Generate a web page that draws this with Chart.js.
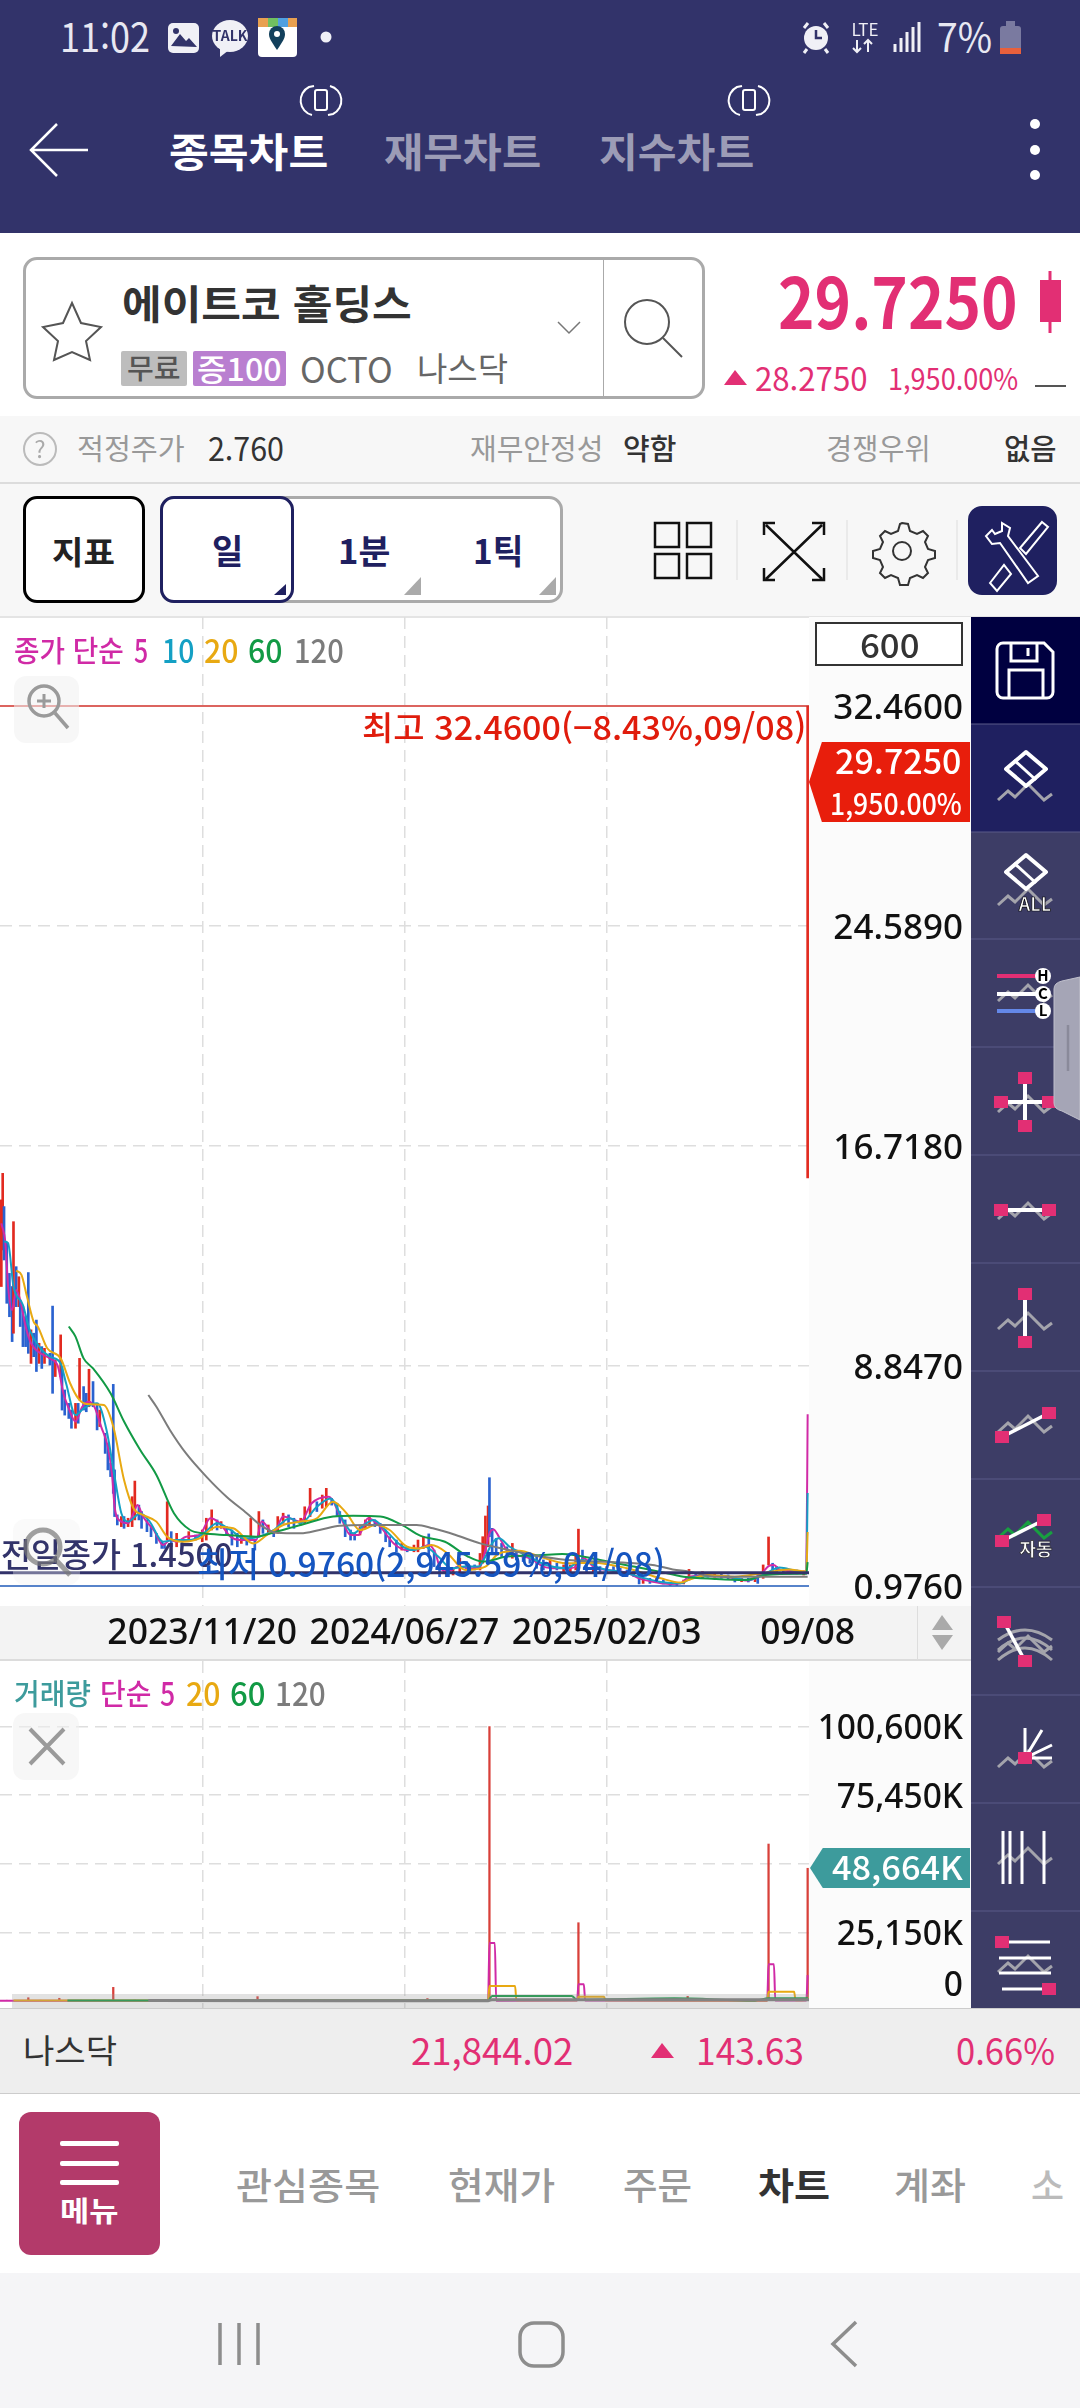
<!DOCTYPE html>
<html lang="ko">
<head>
<meta charset="utf-8">
<title>에이트코 홀딩스 차트</title>
<style>
  html, body { margin: 0; padding: 0; background: #fff; overflow: hidden; }
  #page { position: relative; width: 1080px; height: 2408px; overflow: hidden; font-family: "Noto Sans CJK KR", "Noto Sans", sans-serif; }
  #page div, #page span, canvas, svg { position: absolute; box-sizing: border-box; }
  span { white-space: pre; line-height: 1; transform-origin: left center; }
  #bg { z-index: 0; } #over { z-index: 3; }
  canvas { z-index: 1; }
  svg { z-index: 2; left: 0; top: 0; }
</style>
</head>
<body>
<div id="page">
  <div id="bg"></div>
  <canvas id="priceChart" width="971" height="1043" style="left:0;top:617px"></canvas>
  <canvas id="volumeChart" width="971" height="347" style="left:0;top:1661px"></canvas>
  <div id="over"></div>
</div>
<script src="https://cdn.jsdelivr.net/npm/chart.js@4"></script>
<script>
// candles (price, day index counted from the left edge)
const candleDays = [1,2,3,5,7,9,10,12,14,15,
  17,19,21,23,25,27,29,31,33,37,
  39,41,45,46,48,51,53,56,58,59,
  62,64,66,69,72,74,78,80,82,84,
  85,87,90,92,95,98,100,103,105,109,
  112,116,120,122,124,127,131,135,140,145,
  150,153,157,161,164,168,172,176,179,183,
  186,189,192,195,199,203,206,210,214,218,
  223,226,230,235,239,242,246,250,252,256,
  260,263,267,271,274,278,282,286,289,294,
  298,302,307,310,314,318,322,326,331,336,
  341,346,352,356,358,360,362,363,365,368,
  372,376,380,383,388,393,398,403,408,413,
  418,423,427,429,432,435,440,445,450,455,
  460,465,470,474,477,482,487,492,497,502,
  507,511,516,521,525,530,535,540,545,550,
  555,560,562,566,570,573,576,581,586,591,
  596,599];
const candleHigh = [14.79,15.74,14.55,13.24,12.16,11.69,14.01,12.40,12.04,11.21,
  10.97,10.61,12.19,10.14,10.02,10.49,9.66,9.54,9.48,9.30,
  10.99,9.06,9.96,8.82,7.99,7.51,7.27,7.51,7.51,9.12,
  8.11,7.87,8.73,8.29,7.51,7.27,6.44,6.08,5.37,8.19,
  5.13,3.52,3.46,3.46,3.40,4.17,4.73,3.87,3.64,3.34,
  3.10,2.86,2.56,2.50,3.99,2.92,2.86,2.62,2.92,2.80,
  2.98,3.40,3.70,3.34,3.28,3.10,2.98,2.86,2.74,2.68,
  3.40,2.62,3.64,3.34,3.16,2.98,3.46,3.58,3.52,3.40,
  3.40,3.81,4.47,3.99,4.23,4.47,4.11,3.93,3.64,3.34,
  2.98,2.86,3.10,3.34,3.46,3.34,3.22,2.98,2.74,2.62,
  2.50,2.38,2.44,2.62,2.74,2.84,2.26,1.79,1.55,1.61,
  1.97,1.85,1.73,2.14,2.74,3.48,3.84,4.85,3.04,2.68,
  2.50,2.38,2.50,2.26,2.14,2.08,2.03,1.91,1.91,1.79,
  1.73,1.73,2.14,3.01,2.26,1.91,1.79,1.67,1.67,1.67,
  1.61,1.55,1.49,1.49,1.25,1.25,1.25,1.19,1.10,1.07,
  1.19,1.57,1.43,1.49,1.43,1.43,1.41,1.37,1.25,1.25,
  1.25,1.25,1.43,1.73,2.73,1.79,1.67,1.58,1.57,1.55,
  1.52,32.46];
const candleLow = [11.69,13.00,12.64,11.09,10.61,9.72,10.02,10.97,10.97,10.26,
  9.54,9.54,9.30,8.94,9.18,8.65,8.94,8.76,8.94,8.88,
  7.87,8.47,8.47,7.27,7.09,6.97,6.62,6.62,6.80,7.63,
  7.27,7.21,7.39,7.39,6.56,6.68,5.72,5.13,4.89,4.29,
  3.46,3.16,3.10,3.04,3.10,3.10,3.34,3.34,3.04,2.92,
  2.74,2.50,2.32,2.32,2.62,2.38,2.38,2.44,2.56,2.62,
  2.56,2.62,2.98,2.98,3.04,2.80,2.44,2.38,2.50,2.44,
  2.62,2.26,2.74,2.86,2.86,2.74,2.86,3.22,3.10,3.04,
  3.16,3.22,3.46,3.64,3.76,3.81,3.87,3.46,3.22,2.74,
  2.62,2.62,2.80,3.04,3.16,3.10,2.86,2.56,2.38,2.20,
  2.26,2.20,2.20,2.20,2.32,2.03,1.67,1.31,1.31,1.37,
  1.49,1.55,1.55,1.55,1.79,2.14,2.38,2.74,2.14,2.08,
  2.03,2.03,1.97,1.91,1.85,1.79,1.61,1.55,1.61,1.55,
  1.49,1.49,1.55,1.91,1.85,1.49,1.49,1.43,1.49,1.43,
  1.37,1.31,1.31,1.05,1.07,1.07,1.13,1.05,1.00,1.00,
  1.05,1.19,1.25,1.25,1.29,1.29,1.25,1.23,1.12,1.13,
  1.12,1.13,1.07,1.25,1.73,1.49,1.49,1.43,1.41,1.41,
  1.37,15.58];
const candleClose = [12.5,14.2,13.0,11.5,11.0,10.0,11.6,11.2,11.4,10.5,
  9.9,9.8,9.5,9.6,9.4,9.0,9.3,9.0,9.3,9.1,
  8.2,8.7,8.9,7.6,7.3,7.2,6.8,7.2,7.0,8.1,
  7.6,7.4,7.9,7.6,6.9,7.0,6.0,5.4,5.1,4.6,
  3.6,3.3,3.35,3.2,3.3,3.7,3.9,3.6,3.3,3.1,
  2.9,2.7,2.45,2.4,2.9,2.6,2.7,2.5,2.8,2.7,
  2.8,3.2,3.3,3.1,3.2,2.9,2.6,2.5,2.6,2.55,
  2.8,2.4,3.2,3.0,3.1,2.8,3.2,3.4,3.3,3.2,
  3.3,3.6,3.9,3.8,4.0,4.2,4.0,3.6,3.4,2.9,
  2.8,2.7,3.0,3.2,3.3,3.2,3.0,2.7,2.5,2.35,
  2.4,2.3,2.35,2.5,2.6,2.2,1.8,1.45,1.4,1.5,
  1.7,1.65,1.6,1.9,2.4,3.0,3.4,3.1,2.6,2.3,
  2.2,2.1,2.3,2.0,1.95,1.9,1.7,1.65,1.75,1.6,
  1.6,1.65,1.9,2.1,2.0,1.6,1.65,1.5,1.6,1.5,
  1.45,1.4,1.35,1.1,1.15,1.1,1.2,1.08,1.05,1.02,
  1.12,1.45,1.3,1.4,1.35,1.38,1.3,1.28,1.18,1.2,
  1.15,1.2,1.1,1.6,1.9,1.6,1.55,1.5,1.52,1.45,
  1.45,29.725];

// moving averages on price
const ma5Days = [1,4,6,9,12,15,19,23,30,37,43,47,51,56,61,66,70,75,80,83,85,89,95,99,102,106,114,121,126,131,138,148,156,163,171,178,185,190,194,203,210,223,231,244,252,260,266,273,282,292,302,311,318,323,326,332,340,350,356,360,363,366,370,376,383,393,403,413,423,429,433,440,450,465,474,482,497,505,511,525,540,555,565,570,574,578,590,598,599];
const ma5 = [13.95,13.24,11.69,10.85,11.57,11.21,10.26,9.66,9.30,9.12,8.82,7.87,7.33,6.86,7.39,7.57,7.39,6.68,5.96,5.01,3.81,3.31,3.22,3.58,3.87,3.46,2.98,2.44,2.62,2.56,2.74,2.80,3.40,3.22,2.74,2.62,2.62,2.62,3.28,2.86,3.46,3.28,3.93,4.17,3.52,2.80,2.80,3.40,3.10,2.50,2.26,2.32,2.44,2.14,1.67,1.49,1.67,1.61,1.67,2.26,2.86,3.00,2.74,2.26,2.08,1.97,1.67,1.61,1.61,1.73,1.97,1.67,1.55,1.45,1.25,1.15,1.05,1.07,1.31,1.35,1.29,1.17,1.43,1.69,1.73,1.57,1.49,1.45,7.12];
const ma10Days = [3,6,10,17,22,30,37,45,49,56,62,72,79,85,90,95,104,111,121,129,141,151,161,171,181,192,203,215,223,235,245,255,262,270,277,287,297,307,315,325,335,345,355,360,365,370,378,390,405,420,432,445,460,474,490,505,515,535,555,568,578,590,598,599];
const ma10 = [13.30,13.24,11.69,11.03,10.14,9.48,9.18,8.94,8.23,7.09,7.33,7.51,6.56,4.89,3.58,3.28,3.58,3.28,2.56,2.62,2.62,2.86,3.22,2.98,2.68,2.74,2.98,3.40,3.22,3.81,4.11,3.28,2.86,3.16,3.34,2.92,2.44,2.26,2.38,2.03,1.61,1.67,1.67,2.03,2.50,2.68,2.38,2.08,1.73,1.61,1.91,1.61,1.49,1.31,1.12,1.07,1.31,1.33,1.19,1.43,1.64,1.52,1.45,4.30];
const ma20Days = [12,16,20,25,28,35,45,52,58,64,77,84,92,99,106,116,124,136,148,161,173,188,198,210,223,235,247,257,267,279,289,302,311,320,332,345,360,370,385,400,420,440,465,490,505,512,525,545,565,585,598,599];
const ma20 = [12.26,12.10,11.33,10.43,10.26,9.48,9.12,8.23,7.69,7.49,7.45,6.68,4.77,3.76,3.52,3.28,2.74,2.56,2.68,3.10,3.04,2.50,2.80,3.16,3.28,3.40,3.99,3.58,2.98,3.16,2.98,2.38,2.32,2.44,2.14,1.55,1.67,2.14,2.24,2.03,1.79,1.81,1.61,1.25,1.10,1.22,1.37,1.31,1.43,1.57,1.49,2.91];
const ma60Days = [51,56,62,69,82,92,104,116,129,141,151,168,190,205,223,247,262,282,297,312,330,347,358,376,400,417,445,470,489,507,530,552,568,593,598,599];
const ma60 = [10.26,9.90,9.12,8.76,7.87,6.86,5.84,4.95,3.58,2.98,2.86,2.80,2.74,2.92,3.16,3.46,3.49,3.46,3.19,2.77,2.56,2.03,1.85,2.03,2.08,2.12,1.91,1.67,1.49,1.31,1.23,1.19,1.37,1.41,1.41,1.83];
const ma120Days = [110,116,126,138,153,168,183,193,205,223,237,252,272,297,309,321,338,356,372,396,421,445,464,484,499,511,530,555,581,599];
const ma120 = [7.81,7.39,6.56,5.72,4.89,4.17,3.58,3.16,2.88,2.86,2.98,3.13,3.16,3.16,3.16,3.04,2.80,2.50,2.32,2.08,1.91,1.85,1.81,1.73,1.57,1.49,1.31,1.31,1.31,1.31];

// reference lines and axes
const highPrice = 32.46, lowPrice = 0.976, prevClose = 1.45;
const priceTicks = [0.976, 8.847, 16.718, 24.589, 32.46];
const priceTickLabels = ["0.9760", "8.8470", "16.7180", "24.5890", "32.4600"];
const dateTicks = [150, 300, 450, 599];
const dateLabels = ["2023/11/20", "2024/06/27", "2025/02/03", "09/08"];

// volume in thousands
const volumeDays = [5,21,30,44,60,70,84,100,120,140,160,191,210,240,270,300,317,340,360,363,364,380,400,429,450,480,510,540,560,570,585,599];
const volumes = [200,1200,250,1000,200,300,5000,300,200,250,200,1600,200,150,180,200,900,200,400,100600,700,400,300,28700,400,300,1700,250,300,57550,300,48664];
const volMa5Days = [0,20,362,363,367,368,428,429,433,434,569,570,574,575,598,599];
const volMa5 = [100,120,120,21260,21260,120,150,6100,6100,150,120,13450,13450,200,200,9500];
const volMa20Days = [10,100,362,363,382,383,428,429,448,449,569,570,589,590,598,599];
const volMa20 = [180,200,150,5500,5500,300,300,1570,1570,250,200,3400,3400,300,400,1500];
const volMa60Days = [50,200,362,365,424,428,500,560,570,598,599];
const volMa60 = [170,150,150,1830,1830,400,990,200,1000,1000,1400];
const volMa120Days = [110,300,362,365,590,600];
const volMa120 = [150,130,130,500,500,500];
const volumeTicks = [0, 25150, 50300, 75450, 100600];
const volumeTickLabels = ["0", "25,150K", "", "75,450K", "100,600K"];

const red = "#e22a20", blue = "#2a62d0", pink = "#e22f74", navy = "#32336a";
const maColors = { ma5: "#d02aa6", ma10: "#14a0c4", ma20: "#e8a912", ma60: "#129a45", ma120: "#7c7c7c" };
const xy = (xs, ys) => xs.map((x, i) => ({ x: x, y: ys[i] }));
const maLine = (xs, ys, color, width) => ({
  type: "line", data: xy(xs, ys), borderColor: color, borderWidth: width || 2,
  pointRadius: 0, cubicInterpolationMode: "monotone", order: 1,
});
const flatLine = (y, color, width) => ({
  type: "line", data: [{ x: 0, y: y }, { x: 600, y: y }], borderColor: color, borderWidth: width,
  pointRadius: 0, order: 0,
});

const gridDash = { display: false, dash: [12, 7] };
// a 6px line height lets a leading empty line push the label down 3px, the app prints them slightly low
const priceTickFont = { family: "Noto Sans", size: 35, weight: "500", lineHeight: "6px" };
const volumeTickFont = { family: "Noto Sans", size: 33.5, weight: "500", lineHeight: "6px" };
// the plot has to fill its box exactly, so no room is kept for tick labels
const noMargins = (s) => {
  s.paddingLeft = s.paddingRight = s.paddingTop = s.paddingBottom = 0;
  s._margins = { left: 0, right: 0, top: 0, bottom: 0 };
};

new Chart(document.getElementById("priceChart"), {
  type: "bar",
  data: {
    datasets: [
      {
        data: candleDays.map((d, i) => ({ x: d, y: [candleLow[i], candleHigh[i]] })),
        backgroundColor: candleDays.map((d, i) => (i === 0 || candleClose[i] >= candleClose[i - 1] ? red : blue)),
        barThickness: 2, order: 2,
      },
      maLine(ma120Days, ma120, maColors.ma120),
      maLine(ma60Days, ma60, maColors.ma60),
      maLine(ma20Days, ma20, maColors.ma20),
      maLine(ma10Days, ma10, maColors.ma10),
      maLine(ma5Days, ma5, maColors.ma5),
      flatLine(highPrice, "#d0302a", 1.5),
      flatLine(lowPrice, "#1f5ab8", 1.5),
      flatLine(prevClose, navy, 3),
    ],
  },
  options: {
    responsive: false, animation: false,
    layout: { padding: { right: 8 }, autoPadding: false },
    plugins: { legend: { display: false }, tooltip: { enabled: false } },
    scales: {
      x: {
        type: "linear", min: 0, max: 600, offset: false,
        afterBuildTicks: (s) => { s.ticks = dateTicks.map((v) => ({ value: v })); },
        afterFit: (s) => { s.height = 54; noMargins(s); },
        border: gridDash,
        grid: {
          offset: false, drawTicks: false, lineWidth: 1.5,
          color: (c) => (c.tick && c.tick.value === 599 ? "transparent" : "#dedede"),
        },
        ticks: {
          autoSkip: false, maxRotation: 0, padding: 7, color: "#111",
          font: { family: "Noto Sans", size: 35.5, weight: "500" },
          callback: (v, i) => dateLabels[i],
        },
      },
      y: {
        position: "right", min: 0.2605, max: 35.644,
        afterBuildTicks: (s) => { s.ticks = priceTicks.map((v) => ({ value: v })); },
        afterFit: (s) => { s.width = 154; noMargins(s); },
        border: gridDash,
        grid: {
          drawTicks: false, lineWidth: 1.5,
          color: (c) => (c.tick && (c.tick.value === lowPrice || c.tick.value === highPrice) ? "transparent" : "#dedede"),
        },
        ticks: { autoSkip: false, padding: 0, crossAlign: "far", color: "#111", font: priceTickFont, callback: (v, i) => ["", priceTickLabels[i]] },
      },
    },
  },
});

new Chart(document.getElementById("volumeChart"), {
  type: "bar",
  data: {
    datasets: [
      { data: xy(volumeDays, volumes), backgroundColor: "#d8403a", barThickness: 1.6, order: 2 },
      maLine(volMa120Days, volMa120, maColors.ma120, 3),
      maLine(volMa60Days, volMa60, maColors.ma60),
      maLine(volMa20Days, volMa20, maColors.ma20),
      maLine(volMa5Days, volMa5, maColors.ma5),
    ],
  },
  options: {
    responsive: false, animation: false,
    layout: { padding: { right: 8 }, autoPadding: false },
    plugins: { legend: { display: false }, tooltip: { enabled: false } },
    scales: {
      x: {
        type: "linear", min: 0, max: 600, offset: false,
        afterBuildTicks: (s) => { s.ticks = dateTicks.slice(0, 3).map((v) => ({ value: v })); },
        afterFit: (s) => { s.height = 0; noMargins(s); },
        border: gridDash,
        grid: { offset: false, drawTicks: false, lineWidth: 1.5, color: "#dedede" },
        ticks: { display: false },
      },
      y: {
        position: "right", min: -2566, max: 124650,
        afterBuildTicks: (s) => { s.ticks = volumeTicks.map((v) => ({ value: v })); },
        afterFit: (s) => { s.width = 154; noMargins(s); },
        border: gridDash,
        grid: {
          drawTicks: false, lineWidth: 1.5,
          color: (c) => (c.tick && c.tick.value === 0 ? "transparent" : "#dedede"),
        },
        ticks: {
          autoSkip: false, padding: 0, crossAlign: "far", color: "#111", font: volumeTickFont,
          // the 0 label sits above its line in the app, trailing empty lines lift it
          callback: (v, i) => (i === 0 ? [volumeTickLabels[i], "", "", "", "", ""] : ["", volumeTickLabels[i]]),
        },
      },
    },
  },
});

// app chrome around the charts
const bg = document.getElementById("bg"), over = document.getElementById("over");
function box(layer, x, y, w, h, css) {
  const d = document.createElement("div");
  d.style.cssText = `left:${x}px;top:${y}px;width:${w}px;height:${h}px;${css}`;
  layer.appendChild(d);
}
// text squeezed to the width it has in the screenshot
function T(text, x0, x1, cy, size, color, weight) {
  const s = document.createElement("span");
  s.textContent = text;
  s.style.cssText = `left:${x0}px;top:${cy - size / 2 - 2}px;font-size:${size}px;color:${color};font-weight:${weight || 400}`;
  over.appendChild(s);
  s.style.transform = `scaleX(${(x1 - x0) / s.offsetWidth})`;
}

box(bg, 0, 0, 1080, 233, `background:${navy}`);
box(bg, 0, 416, 1080, 201, "background:#f7f7f7");
box(bg, 0, 482, 1080, 2, "background:#dcdcdc");
box(bg, 0, 616, 1080, 2, "background:#e4e4e4");
box(bg, 23, 257, 682, 142, "border:3px solid #aaa;border-radius:14px;background:#fff");
box(bg, 603, 258, 1, 140, "background:#aaa");
box(bg, 121, 351, 66, 35, "background:#bdbdbd;border-radius:2px");
box(bg, 193, 351, 93, 35, "background:#b97fd0;border-radius:2px");
box(bg, 23, 496, 122, 107, "border:3px solid #000;border-radius:14px;background:#fff");
box(bg, 160, 496, 403, 107, "border:3px solid #aaa;border-radius:14px;background:#fff");
box(bg, 160, 496, 134, 107, "border:3px solid #1f2060;border-radius:14px;background:#fff");
box(bg, 968, 506, 89, 89, "background:#1f2060;border-radius:14px");
box(bg, 809, 617, 162, 989, "background:#fbfbfb");
box(bg, 809, 1661, 162, 347, "background:#fbfbfb");
box(bg, 0, 1606, 971, 54, "background:#f3f3f3");
box(bg, 0, 1659, 971, 2, "background:#dcdcdc");
box(bg, 917, 1606, 1, 54, "background:#ddd");
box(bg, 0, 2008, 1080, 1, "background:#ccc");
box(bg, 0, 2009, 1080, 84, "background:#eeeeee");
box(bg, 0, 2093, 1080, 1, "background:#ccc");
box(bg, 0, 2273, 1080, 135, "background:#f5f5f7");
box(bg, 19, 2112, 141, 143, "background:#b33a6a;border-radius:12px");

box(over, 815, 622, 148, 44, "border:2px solid #333;background:#fff");
box(over, 14, 676, 65, 67, "background:rgba(240,240,240,.55);border-radius:12px");
box(over, 13, 1519, 67, 66, "background:rgba(240,240,240,.35);border-radius:12px");
box(over, 13, 1713, 66, 67, "background:rgba(240,240,240,.55);border-radius:12px");
box(over, 12, 1994, 797, 14, "background:rgba(150,150,150,.28)");
box(over, 809, 742, 161, 80, `background:#e81e0c;clip-path:polygon(0 50%,8% 0,100% 0,100% 100%,8% 100%)`);
box(over, 810, 1848, 160, 40, "background:#3d9b9c;clip-path:polygon(0 50%,8% 0,100% 0,100% 100%,8% 100%)");

T("11:02", 60, 150, 37, 40, "#e8e8f2");
T("7%", 937, 992, 37, 40, "#e8e8f2");
T("종목차트", 169, 328, 152, 40, "#fff", 700);
T("재무차트", 384, 541, 152, 40, "#9c9cb6", 700);
T("지수차트", 599, 754, 152, 40, "#9c9cb6", 700);
T("에이트코 홀딩스", 122, 412, 304, 40, "#333", 700);
T("무료", 127, 181, 369, 28, "#555", 500);
T("증100", 197, 282, 369, 31, "#fff", 500);
T("OCTO", 300, 393, 369, 35, "#666");
T("나스닥", 417, 508, 369, 33, "#666");
T("29.7250", 778, 1018, 301, 70, pink, 700);
T("28.2750", 755, 868, 379, 32, pink);
T("1,950.00%", 888, 1018, 379, 30, pink);
T("적정주가", 77, 185, 449, 29, "#999");
T("2.760", 208, 284, 449, 32, "#333");
T("재무안정성", 470, 603, 449, 29, "#999");
T("약함", 623, 676, 449, 29, "#333", 500);
T("경쟁우위", 826, 931, 449, 29, "#999");
T("없음", 1004, 1056, 449, 29, "#333", 500);
T("지표", 52, 115, 552, 32, "#222", 700);
T("일", 212, 243, 552, 34, "#1f2060", 700);
T("1분", 338, 390, 552, 34, "#1f2060", 700);
T("1틱", 473, 523, 552, 34, "#1f2060", 700);

T("종가 단순", 14, 124, 651, 29, "#d02aa6", 500);
T("5", 134, 148, 651, 32, maColors.ma5, 500);
T("10", 162, 194, 651, 32, maColors.ma10, 500);
T("20", 204, 238, 651, 32, maColors.ma20, 500);
T("60", 248, 282, 651, 32, maColors.ma60, 500);
T("120", 294, 344, 651, 32, maColors.ma120, 500);
T("600", 860, 919, 646, 33, "#333", 500);
T("최고 32.4600(−8.43%,09/08)", 362, 806, 728, 33, "#e01c0c", 500);
T("29.7250", 835, 961, 762, 34, "#fff", 500);
T("1,950.00%", 830, 962, 804, 29, "#fff", 500);
T("전일종가 1.4500", 1, 233, 1555, 33, navy, 500);
T("최저 0.9760(2,945.59%,04/08)", 197, 665, 1565, 34, "#1555c0", 500);

T("거래량", 14, 91, 1694, 29, "#3d9b9c", 500);
T("단순", 100, 151, 1694, 29, maColors.ma5, 500);
T("5", 160, 175, 1694, 32, maColors.ma5, 500);
T("20", 186, 220, 1694, 32, maColors.ma20, 500);
T("60", 230, 265, 1694, 32, maColors.ma60, 500);
T("120", 275, 326, 1694, 32, maColors.ma120, 500);
T("48,664K", 832, 963, 1868, 33, "#fff", 500);

T("나스닥", 23, 117, 2051, 33, "#333");
T("21,844.02", 411, 573, 2051, 37, pink);
T("143.63", 696, 804, 2051, 37, pink);
T("0.66%", 956, 1055, 2051, 37, pink);
T("메뉴", 60, 119, 2212, 28, "#fff", 700);
T("관심종목", 236, 380, 2186, 37, "#999", 500);
T("현재가", 448, 555, 2186, 37, "#999", 500);
T("주문", 623, 692, 2186, 37, "#999", 500);
T("차트", 758, 830, 2186, 37, "#333", 700);
T("계좌", 894, 966, 2186, 37, "#999", 500);
T("소", 1031, 1064, 2186, 37, "#bbb", 500);

// icons
const zig = (y, c) => `<path d="M998 ${y + 7}l10-9 7 6 13-13 16 16 8-6" fill="none" stroke="${c || "#a4a4ac"}" stroke-width="3"/>`;
const dot = (x, y) => `<rect x="${x - 7}" y="${y - 6}" width="14" height="12" fill="${pink}"/>`;
const wl = (d, w) => `<path d="${d}" fill="none" stroke="#fff" stroke-width="${w || 3}"/>`;
const eraser = (y, f) => `<path d="M1026 ${y - 20}l20 17-20 17-20-17z" fill="${f}" stroke="#fff" stroke-width="4" stroke-linejoin="round"/><path d="M1014 ${y - 12}l22 20" stroke="#fff" stroke-width="3"/>`;
const rowYs = [724, 832, 939, 1047, 1155, 1263, 1371, 1479, 1587, 1695, 1803, 1911];

const icons = `
<svg width="1080" height="2408" viewBox="0 0 1080 2408">
  <!-- status bar -->
  <rect x="168" y="23" width="31" height="30" rx="5" fill="#f0f0f6"/><path d="M171 46l9-12 6 7 3-3 8 9" fill="${navy}"/><circle cx="176" cy="31" r="3" fill="${navy}"/>
  <ellipse cx="230" cy="36" rx="18" ry="16" fill="#f0f0f6"/><path d="M220 48l0 9 9-7z" fill="#f0f0f6"/>
  <text x="230" y="41" font-size="14" font-weight="700" text-anchor="middle" fill="${navy}">TALK</text>
  <rect x="258" y="18" width="39" height="39" rx="4" fill="#fff"/><path d="M258 18h39v9h-39z" fill="#e8a050"/><path d="M268 18h10v9h-10z" fill="#70c060"/><path d="M278 18h10v9h-10z" fill="#50a0e0"/>
  <path d="M277 50c-6-9-8-12-8-16a8 8 0 0116 0c0 4-2 7-8 16z" fill="#12405c"/><circle cx="277" cy="34" r="3" fill="#fff"/>
  <circle cx="326" cy="37" r="5.5" fill="#f0f0f6"/>
  <circle cx="816" cy="38" r="12" fill="#f0f0f6"/><path d="M816 30v8h6" fill="none" stroke="${navy}" stroke-width="2.5"/><path d="M804 28l4-5M828 28l-4-5M807 49l-3 4M825 49l3 4" stroke="#f0f0f6" stroke-width="3"/>
  <text x="865" y="36" font-size="17" text-anchor="middle" fill="#f0f0f6">LTE</text><path d="M857 40v12m-4-4l4 4 4-4M868 52v-12m-4 4l4-4 4 4" fill="none" stroke="#f0f0f6" stroke-width="2"/>
  <path d="M895 44v8M901 38v14M907 32v20M913 27v25M919 22v30" stroke="#f0f0f6" stroke-width="3"/>
  <rect x="1000" y="26" width="21" height="28" rx="3" fill="#7a7aa0"/><rect x="1006" y="21" width="9" height="5" fill="#7a7aa0"/><rect x="1000" y="48" width="21" height="6" fill="#e8603c"/>
  <!-- header -->
  ${wl("M57 124L31 150 57 176M31 150h57", 2.5)}
  <g fill="none" stroke="#fff" stroke-width="2"><rect x="315" y="90" width="12" height="20" rx="2"/><path d="M312 115a15 15 0 01-3-28l5-1M330 86a15 15 0 013 28l-5 1"/><rect x="743" y="90" width="12" height="20" rx="2"/><path d="M740 115a15 15 0 01-3-28l5-1M758 86a15 15 0 013 28l-5 1"/></g>
  <g fill="#fff"><circle cx="1035" cy="124" r="5"/><circle cx="1035" cy="150" r="5"/><circle cx="1035" cy="175" r="5"/></g>
  <!-- stock box -->
  <path d="M72 303l9 20 20 4-15 14 4 19-18-8-18 8 4-19-15-14 20-4z" fill="none" stroke="#555" stroke-width="2"/>
  <path d="M558 322l11 11 11-11" fill="none" stroke="#777" stroke-width="1.5"/>
  <circle cx="647" cy="322" r="22" fill="none" stroke="#555" stroke-width="2"/><path d="M663 338l19 19" stroke="#555" stroke-width="2"/>
  <path d="M1050 271v62" stroke="${pink}" stroke-width="3"/><rect x="1040" y="280" width="21" height="42" fill="${pink}"/>
  <path d="M735 370l12 15h-23z" fill="${pink}"/><rect x="1035" y="385" width="31" height="2" fill="#555"/>
  <circle cx="40" cy="449" r="16" fill="none" stroke="#bbb" stroke-width="2"/><text x="40" y="458" font-size="24" text-anchor="middle" fill="#aaa">?</text>
  <!-- toolbar -->
  <path d="M286 584v11h-12z" fill="#1f2060"/><path d="M421 577v18h-17z" fill="#aaa"/><path d="M556 577v18h-17z" fill="#aaa"/>
  <g fill="none" stroke="#111" stroke-width="2.5">
    <rect x="655" y="523" width="24" height="24"/><rect x="687" y="523" width="24" height="24"/><rect x="655" y="554" width="24" height="24"/><rect x="687" y="554" width="24" height="24"/>
    <path d="M775 523h-11v12M812 523h12v12M775 580h-11v-12M812 580h12v-12M766 525l56 54M822 525l-56 54"/>
  </g>
  <path d="M737 520v60M847 520v60M957 520v60" stroke="#ddd"/>
  <path d="M902 523l6 1 2 7 7 3 6-3 5 5-3 6 3 7 7 2v7l-7 2-3 7 3 6-5 5-6-3-7 3-2 7h-8l-2-7-7-3-6 3-5-5 3-6-3-7-7-2v-7l7-2 3-7-3-6 5-5 6 3 7-3 2-7z" fill="none" stroke="#333" stroke-width="2"/><circle cx="902" cy="551" r="9" fill="none" stroke="#333" stroke-width="2"/>
  ${wl("M992 530l-6 6 6 8 8-1 28 40 10-7-30-40 2-8-8-5 0 8-7 3zM1042 522l6 5-22 27-6-6zM990 583l14-18 7 9-14 17z", 2)}
  <!-- chart buttons -->
  <g fill="none" stroke="#9a9a9a" stroke-width="3.5"><circle cx="44" cy="701" r="15"/><path d="M55 713l13 15"/><path d="M37 701h14M44 694v14" stroke-width="3"/></g>
  <g fill="none" stroke="rgba(120,120,120,.7)" stroke-width="5"><circle cx="43" cy="1547" r="17"/><path d="M56 1560l14 15"/></g>
  <path d="M30 1729l34 35M64 1729l-34 35" stroke="#9a9a9a" stroke-width="4"/>
  <path d="M942 1615l11 15h-21zM942 1650l11-15h-21z" fill="#aaa"/>
  <!-- side tools -->
  <rect x="971" y="617" width="109" height="107" fill="#000040"/>
  <rect x="971" y="724" width="109" height="108" fill="#1f2060"/>
  <rect x="971" y="832" width="109" height="1176" fill="#3d3d66"/>
  ${rowYs.map((y) => `<path d="M971 ${y}h109" stroke="#5a5a88"/>`).join("")}
  ${wl("M1003 643h41l9 9v40a6 6 0 01-6 6h-44a6 6 0 01-6-6v-43a6 6 0 016-6zM1011 643v18h26v-18M1028 648v8M1009 698v-28h34v28", 3)}
  ${zig(793)}${eraser(772, "#1f2060")}
  ${zig(898)}${eraser(875, "#3d3d66")}
  <text x="1035" y="911" font-size="18" font-weight="700" text-anchor="middle" fill="#fff" stroke="#000" stroke-width=".7">ALL</text>
  ${zig(994)}<path d="M997 976h40" stroke="${pink}" stroke-width="4"/><path d="M997 994h40" stroke="#fff" stroke-width="4"/><path d="M997 1011h40" stroke="#6488e8" stroke-width="4"/>
  <g font-size="15" font-weight="700" text-anchor="middle"><circle cx="1043" cy="976" r="8" fill="#fff"/><circle cx="1043" cy="994" r="8" fill="#fff"/><circle cx="1043" cy="1011" r="8" fill="#fff"/><text x="1043" y="981">H</text><text x="1043" y="999">C</text><text x="1043" y="1016">L</text></g>
  ${zig(1105)}${wl("M1001 1102h48M1025 1078v48", 4)}${dot(1001, 1102)}${dot(1049, 1102)}${dot(1025, 1078)}${dot(1025, 1126)}
  ${zig(1212)}${wl("M1001 1210h48", 4)}${dot(1001, 1210)}${dot(1049, 1210)}
  ${zig(1322)}${wl("M1025 1294v48", 4)}${dot(1025, 1294)}${dot(1025, 1342)}
  ${zig(1425)}${wl("M1002 1437l47-24", 3.5)}${dot(1002, 1437)}${dot(1049, 1413)}
  ${zig(1531, "#18a040")}${wl("M1002 1541l42-21", 3.5)}${dot(1002, 1541)}${dot(1044, 1520)}
  <text x="1036" y="1556" font-size="18" font-weight="700" text-anchor="middle" fill="#fff" stroke="#222" stroke-width=".6">자동</text>
  <g fill="none" stroke="#a4a4ac" stroke-width="3"><path d="M998 1640q27-20 54 0M998 1650q27-24 54 0M998 1660q27-24 54 0"/></g>${zig(1645)}${wl("M1004 1622l21 39", 3.5)}${dot(1004, 1622)}${dot(1025, 1661)}
  ${zig(1760)}${wl("M1025 1758v-30M1025 1758l17-28M1025 1758l27-13M1025 1758h27", 3)}${dot(1025, 1758)}
  ${zig(1857)}${wl("M1003 1831v53M1010 1831v53M1022 1831v53M1044 1831v53", 3)}
  ${zig(1965)}${wl("M1002 1942h48M999 1958h52M999 1973h52M1002 1989h48", 3)}${dot(1002, 1942)}${dot(1049, 1989)}
  <path d="M1080 977l-18 4q-8 2-8 8v114q0 6 8 8l18 9z" fill="#a5a5b6" stroke="#c0c0cc"/><path d="M1068 1025v46" stroke="#8a8a9a" stroke-width="2.5"/>
  <!-- bottom -->
  <path d="M662 2043l12 15h-23z" fill="${pink}"/>
  <g fill="#fff"><rect x="60" y="2141" width="59" height="5" rx="2"/><rect x="60" y="2161" width="59" height="5" rx="2"/><rect x="60" y="2180" width="59" height="5" rx="2"/></g>
  <g fill="none" stroke="#8d8d8d" stroke-width="3.5"><path d="M220 2323v42M239 2323v42M258 2323v42"/><rect x="520" y="2323" width="43" height="43" rx="14"/><path d="M856 2322l-23 22 23 22"/></g>
</svg>`;
over.insertAdjacentHTML("afterbegin", icons);
</script>
</body>
</html>
